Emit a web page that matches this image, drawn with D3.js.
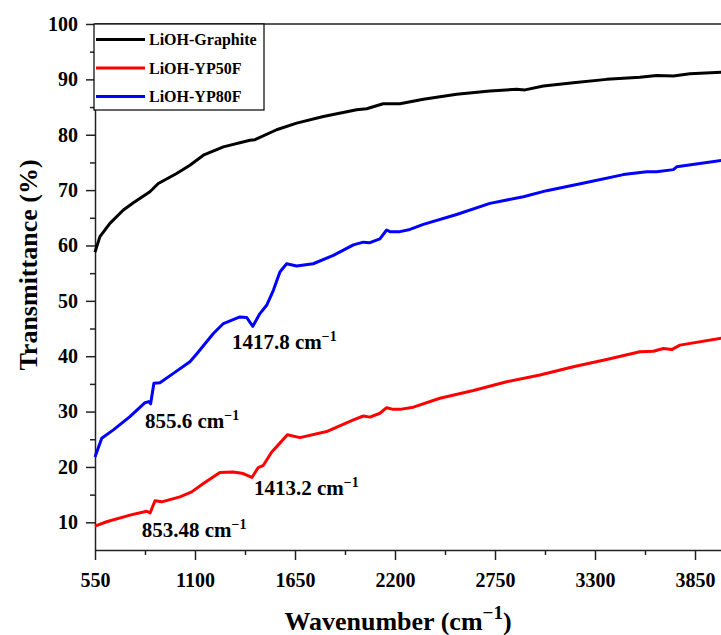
<!DOCTYPE html>
<html>
<head>
<meta charset="utf-8">
<script src="https://cdn.jsdelivr.net/npm/d3@7"></script>
<style>
  body { margin: 0; background: #fff; }
  svg text { font-family: "Liberation Serif", "Times New Roman", serif; font-weight: bold; fill: #000; }
  .axis path, .axis line { stroke: #222; stroke-width: 1.5; }
</style>
</head>
<body>
<div id="chart"></div>
<script>
// series names
var seriesNames = ["LiOH-Graphite", "LiOH-YP50F", "LiOH-YP80F"];

// LiOH-Graphite
var graphiteW = [550, 577, 632, 706, 761, 852, 898, 999, 1072, 1146, 1256, 1402, 1430, 1549, 1659, 1806, 1989, 2044, 2135, 2227, 2356, 2539, 2722, 2869, 2915, 3016, 3181, 3364, 3547, 3639, 3731, 3822, 4000];
var graphiteT = [58.8, 61.6, 64.0, 66.4, 67.7, 69.7, 71.2, 73.0, 74.5, 76.3, 77.8, 79.0, 79.1, 80.9, 82.1, 83.3, 84.5, 84.7, 85.6, 85.6, 86.4, 87.3, 87.9, 88.2, 88.1, 88.8, 89.4, 90.0, 90.4, 90.7, 90.6, 91.0, 91.3];

// LiOH-YP50F
var yp50W = [550, 614, 742, 834, 853, 880, 917, 1017, 1082, 1146, 1237, 1310, 1365, 1413, 1448, 1476, 1522, 1567, 1608, 1677, 1824, 1971, 2026, 2062, 2117, 2154, 2190, 2227, 2301, 2447, 2631, 2814, 2997, 3181, 3364, 3547, 3621, 3676, 3722, 3767, 4000];
var yp50T = [9.3, 10.1, 11.3, 12.0, 11.7, 13.9, 13.7, 14.6, 15.5, 17.0, 19.0, 19.1, 18.8, 18.1, 19.9, 20.3, 22.7, 24.3, 25.8, 25.3, 26.4, 28.5, 29.2, 29.0, 29.7, 30.7, 30.4, 30.4, 30.8, 32.4, 33.8, 35.4, 36.6, 38.1, 39.4, 40.8, 40.9, 41.4, 41.2, 42.0, 43.3];

// LiOH-YP80F
var yp80W = [550, 587, 651, 742, 825, 846, 856, 874, 907, 981, 1072, 1109, 1201, 1256, 1347, 1384, 1418, 1457, 1494, 1531, 1567, 1604, 1659, 1750, 1861, 1971, 2026, 2062, 2117, 2154, 2172, 2227, 2282, 2356, 2539, 2722, 2906, 3034, 3272, 3456, 3584, 3639, 3731, 3749, 4000];
var yp80T = [21.8, 25.2, 26.7, 29.1, 31.6, 31.8, 31.4, 35.1, 35.2, 36.9, 39.0, 40.4, 44.1, 45.9, 47.1, 47.0, 45.4, 47.7, 49.2, 51.9, 55.2, 56.7, 56.3, 56.7, 58.2, 60.1, 60.6, 60.5, 61.2, 62.8, 62.5, 62.5, 62.9, 63.8, 65.6, 67.6, 68.8, 69.9, 71.5, 72.8, 73.3, 73.3, 73.7, 74.2, 75.4];

// peak labels (value text, anchor wavenumber, anchor transmittance)
var peakLabels = ["1417.8", "855.6", "1413.2", "853.48"];
var peakW = [1303, 825, 1424, 807];
var peakT = [41.3, 27.0, 14.9, 7.4];

// ticks
var xMajor = [550, 1100, 1650, 2200, 2750, 3300, 3850];
var xMinor = [825, 1375, 1925, 2475, 3025, 3575];
var yMajor = [10, 20, 30, 40, 50, 60, 70, 80, 90, 100];
var yMinor = [15, 25, 35, 45, 55, 65, 75, 85, 95];

var colors = ["#000000", "#ff0000", "#0000ff"];

function drawChart() {
    var width = 721, height = 635;
    var mLeft = 95, mTop = 24, mBottom = 550;

    var x = d3.scaleLinear().domain([550, 4000]).range([mLeft, mLeft + 3450 / 5.5]);
    var y = d3.scaleLinear().domain([5, 100]).range([mBottom, mTop]);

    var svg = d3.select("#chart").append("svg")
        .attr("width", width)
        .attr("height", height);

    // frame top / right
    svg.append("line")
        .attr("x1", x(550)).attr("x2", x(4000))
        .attr("y1", y(100)).attr("y2", y(100))
        .attr("stroke", "#222").attr("stroke-width", 1.5);
    svg.append("line")
        .attr("x1", x(4000)).attr("x2", x(4000))
        .attr("y1", y(100)).attr("y2", y(5))
        .attr("stroke", "#222").attr("stroke-width", 1.5);

    // x axis
    var xAxis = svg.append("g")
        .attr("class", "axis")
        .attr("transform", "translate(0," + mBottom + ")")
        .call(d3.axisBottom(x).tickValues(xMajor).tickSize(10).tickPadding(13).tickSizeOuter(0).tickFormat(d3.format("d")));
    xAxis.selectAll("text").style("font-size", "20px");
    svg.append("g")
        .attr("class", "axis")
        .attr("transform", "translate(0," + mBottom + ")")
        .call(d3.axisBottom(x).tickValues(xMinor).tickSize(5).tickSizeOuter(0).tickFormat(""))
        .select(".domain").remove();

    // y axis
    var yAxis = svg.append("g")
        .attr("class", "axis")
        .attr("transform", "translate(" + mLeft + ",0)")
        .call(d3.axisLeft(y).tickValues(yMajor).tickSize(9).tickPadding(8).tickSizeOuter(0));
    yAxis.selectAll("text").style("font-size", "20px");
    svg.append("g")
        .attr("class", "axis")
        .attr("transform", "translate(" + mLeft + ",0)")
        .call(d3.axisLeft(y).tickValues(yMinor).tickSize(5).tickSizeOuter(0).tickFormat(""))
        .select(".domain").remove();

    // lines
    var series = [
      d3.zip(graphiteW, graphiteT),
      d3.zip(yp50W, yp50T),
      d3.zip(yp80W, yp80T)
    ];
    var line = d3.line()
        .x(function(d) { return x(d[0]); })
        .y(function(d) { return y(d[1]); });

    svg.append("g").selectAll("path")
        .data(series)
        .enter().append("path")
        .attr("d", line)
        .attr("fill", "none")
        .attr("stroke", function(d, i) { return colors[i]; })
        .attr("stroke-width", 3)
        .attr("stroke-linejoin", "round");

    // peak annotations
    peakLabels.forEach(function(lbl, i) {
        var t = svg.append("text")
            .attr("x", x(peakW[i]))
            .attr("y", y(peakT[i]))
            .style("font-size", "21px");
        t.append("tspan").text(lbl + " cm");
        t.append("tspan").attr("dy", -8).style("font-size", "14px").text("\u22121");
    });

    // legend
    var legend = svg.append("g");
    legend.append("rect")
        .attr("x", 94).attr("y", 24)
        .attr("width", 170).attr("height", 86)
        .attr("fill", "#fff")
        .attr("stroke", "#000").attr("stroke-width", 1.2);
    seriesNames.forEach(function(name, i) {
        var ly = 39.5 + i * 28.5;
        legend.append("line")
            .attr("x1", 96).attr("x2", 145)
            .attr("y1", ly).attr("y2", ly)
            .attr("stroke", colors[i]).attr("stroke-width", 3);
        legend.append("text")
            .attr("x", 149).attr("y", ly + 5.5)
            .style("font-size", "16px")
            .text(name);
    });

    // axis titles
    var xt = svg.append("text")
        .attr("x", 398).attr("y", 630)
        .attr("text-anchor", "middle")
        .style("font-size", "26px");
    xt.append("tspan").text("Wavenumber (cm");
    xt.append("tspan").attr("dy", -11).style("font-size", "19px").text("\u22121");
    xt.append("tspan").attr("dy", 11).text(")");

    svg.append("text")
        .attr("transform", "translate(37,265) rotate(-90)")
        .attr("text-anchor", "middle")
        .style("font-size", "26px")
        .text("Transmittance (%)");
}

drawChart();
</script>
</body>
</html>
